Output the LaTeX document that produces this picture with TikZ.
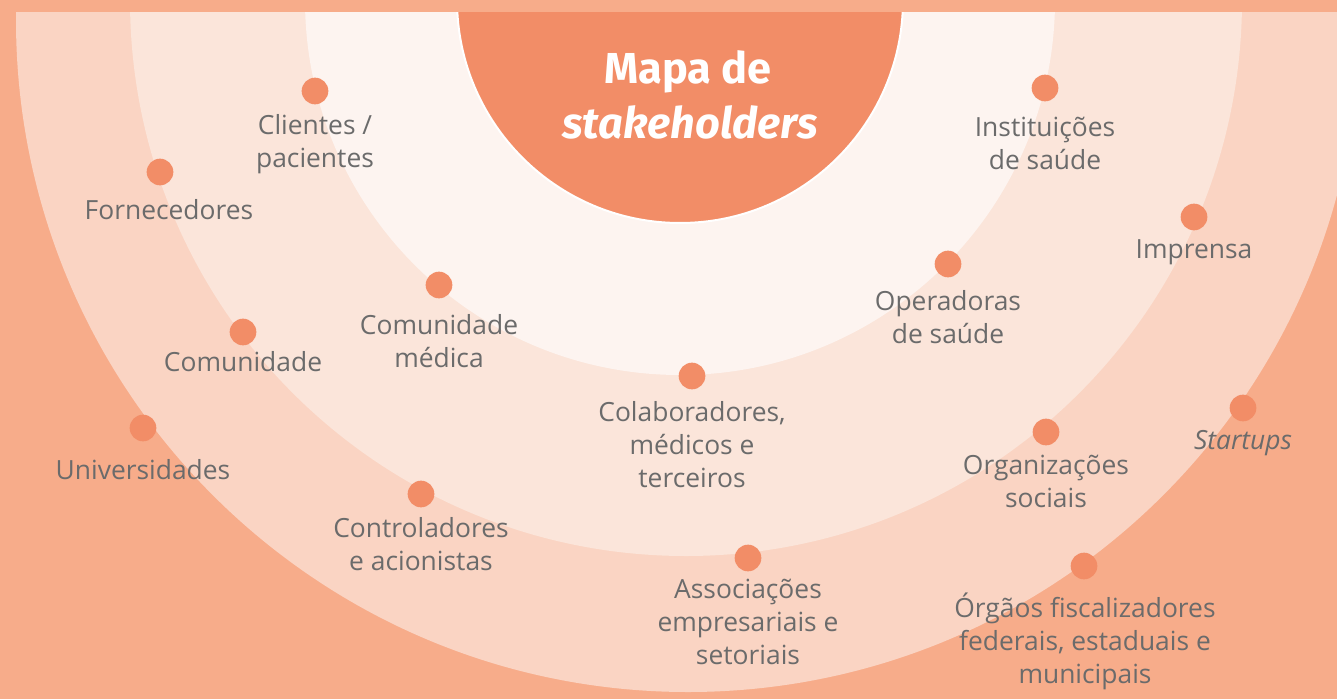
\documentclass[tikz,border=0pt]{standalone}
\usepackage{fontspec}
\setmainfont{Open Sans}
\newfontfamily\titlefont{Fira Sans}
\definecolor{bgc}{HTML}{F7AC8A}
\definecolor{ringD}{HTML}{FAD4C3}
\definecolor{ringC}{HTML}{FBE5DA}
\definecolor{ringB}{HTML}{FDF4F0}
\definecolor{corec}{HTML}{F28D67}
\definecolor{txtc}{HTML}{6B6B6B}
\tikzset{
  dot/.style={circle, fill=corec, inner sep=0pt, minimum size=20pt},
  lbl/.style={text=txtc, align=center, inner sep=0pt, font=\fontsize{19.8pt}{24.75pt}\selectfont},
  titletxt/.style={text=white, inner sep=0pt, font=\titlefont\bfseries\fontsize{32.5pt}{38pt}\selectfont}
}
\begin{document}
\begin{tikzpicture}[x=0.75pt,y=-0.75pt]
\useasboundingbox (0,0) rectangle (1337,699);
\fill[bgc] (0,0) rectangle (1337,699);
\begin{scope}
  \clip (0,13) rectangle (1337,699);
  \fill[ringD] (688,20) circle (504pt);
  \fill[ringC] (686,0) circle (417pt);
  \fill[ringB] (680,0) circle (281.25pt);
  \fill[corec, draw=white, line width=1.5pt] (680,0) circle (167.25pt);
\end{scope}
\node[titletxt] (t1) at (688,72) {Mapa de};
\node[titletxt, font=\titlefont\bfseries\itshape\fontsize{32.5pt}{38pt}\selectfont] (t2) at (690,122) {stakeholders};

\node[dot] (d1) at (315,91) {};
\node[dot] (d2) at (160,172) {};
\node[dot] (d3) at (439,285) {};
\node[dot] (d4) at (243,332) {};
\node[dot] (d5) at (143,428) {};
\node[dot] (d6) at (421,494) {};
\node[dot] (d7) at (692,376) {};
\node[dot] (d8) at (748,558) {};
\node[dot] (d9) at (1084,566) {};
\node[dot] (d10) at (1046,432) {};
\node[dot] (d11) at (1243,408) {};
\node[dot] (d12) at (948,264) {};
\node[dot] (d13) at (1194,217) {};
\node[dot] (d14) at (1045,88) {};

\node[lbl] (l1) at (315,144) {Clientes /\\pacientes};
\node[lbl] (l2) at (169,210) {Fornecedores};
\node[lbl] (l3) at (439,341) {Comunidade\\médica};
\node[lbl] (l4) at (243,362) {Comunidade};
\node[lbl] (l5) at (143,470) {Universidades};
\node[lbl] (l6) at (421,544) {Controladores\\e acionistas};
\node[lbl] (l7) at (692,445) {Colaboradores,\\médicos e\\terceiros};
\node[lbl] (l8) at (748,622) {Associações\\empresariais e\\setoriais};
\node[lbl] (l9) at (1085,641) {Órgãos fiscalizadores\\federais, estaduais e\\municipais};
\node[lbl] (l10) at (1046,481) {Organizações\\sociais};
\node[lbl] (l11) at (1243,443) {\itshape Startups};
\node[lbl] (l12) at (948,317) {Operadoras\\de saúde};
\node[lbl] (l13) at (1194,252) {Imprensa};
\node[lbl] (l14) at (1045,143) {Instituições\\de saúde};
\end{tikzpicture}
\end{document}
